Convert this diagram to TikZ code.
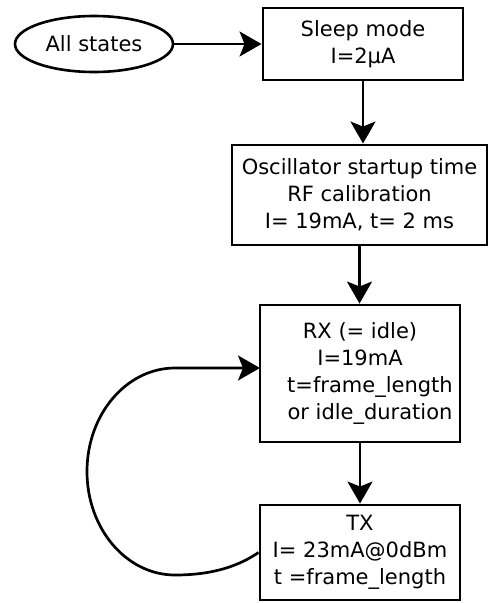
\documentclass[tikz,border=0pt]{standalone}
\usepackage{fontspec}
\setmainfont{DejaVu Sans}
\usetikzlibrary{shapes.geometric,arrows.meta}
\begin{document}
\begin{tikzpicture}[x=1pt,y=-1pt,
  every node/.style={font=\fontsize{21}{27}\selectfont, inner sep=0pt, align=center},
  statebox/.style={draw, line width=2.9pt, rectangle},
  startell/.style={draw, line width=2.6pt, ellipse},
  arr/.style={line width=2.7pt, -{Stealth[length=22pt,width=25pt,inset=5pt]}}]
\useasboundingbox (0,0) rectangle (489,603);
\node[startell, minimum width=158pt, minimum height=56pt] (all) at (94,44) {All states};
\node[statebox, minimum width=200pt, minimum height=72pt] (sleep) at (363,44) {Sleep mode\\I=2µA\hspace{12pt}};
\node[statebox, minimum width=255pt, minimum height=100pt] (osc) at (359.5,195) {Oscillator startup time\\RF calibration\\I= 19mA, t= 2 ms};
\node[statebox, minimum width=200pt, minimum height=137pt] (rx) at (360,373.5) {RX (= idle)\\I=19mA\hspace{14pt}\\\hspace{20pt}t=frame\_length\\\hspace{20pt}or idle\_duration};
\node[statebox, minimum width=200pt, minimum height=95pt] (tx) at (360,552.5) {TX\\I= 23mA@0dBm\\t =frame\_length};
\coordinate (rxin) at (260,368);
\draw[arr] (all) -- (sleep);
\draw[arr] (sleep.south) -- (sleep.south |- osc.north);
\draw[arr] (osc.south) -- (osc.south |- rx.north);
\draw[arr] (rx.south) -- (tx.north);
\draw[arr] (tx.west) .. controls (240,565) and (215,575) .. (175,575)
  arc[start angle=90, end angle=270, x radius=88, y radius=103.5] -- (rxin);
\end{tikzpicture}
\end{document}
